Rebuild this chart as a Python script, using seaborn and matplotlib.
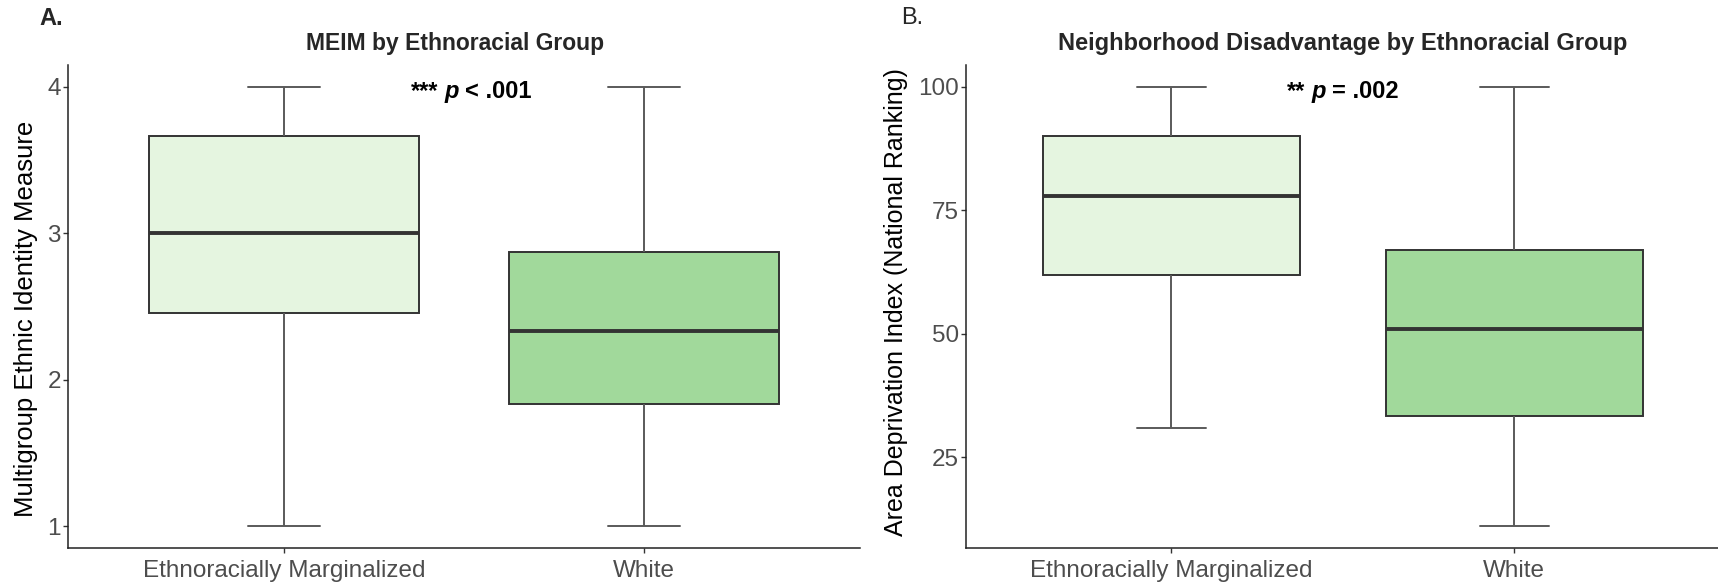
import numpy as np
import pandas as pd
import matplotlib
matplotlib.use("Agg")
import matplotlib.pyplot as plt
import seaborn as sns
from matplotlib.offsetbox import TextArea, HPacker, AnnotationBbox

# Groups and fill colours
groups = ["Ethnoracially Marginalized", "White"]
group_colors = ["#E5F5E0", "#A1D99B"]

# Five-number summaries per group: min, Q1, median, Q3, max
meim_marginalized = [1.0, 2.46, 3.0, 3.667, 4.0]
meim_white = [1.0, 1.833, 2.333, 2.875, 4.0]
adi_marginalized = [31, 62, 78, 90, 100]
adi_white = [11, 33.25, 51, 67, 100]

meim_ticks = [1, 2, 3, 4]
adi_ticks = [25, 50, 75, 100]

sns.set_theme(style="ticks")
plt.rcParams["font.family"] = ["Liberation Sans", "DejaVu Sans"]

W, H = 1718, 584
fig = plt.figure(figsize=(W / 100, H / 100), dpi=100)


def px_axes(x0, x1, y0, y1):
    return fig.add_axes([x0 / W, 1 - y1 / H, (x1 - x0) / W, (y1 - y0) / H])


def p_note(ax, x, y, stars, rest):
    tp = dict(fontsize=17, fontweight="bold", color="black")
    parts = [
        TextArea(stars, textprops=tp),
        TextArea("p", textprops=dict(tp, fontstyle="italic")),
        TextArea(rest, textprops=tp),
    ]
    box = HPacker(children=parts, align="baseline", pad=0, sep=4.5)
    ab = AnnotationBbox(box, (x, y), xycoords="data", xybox=(0, -3),
                        boxcoords="offset points", box_alignment=(0.5, 0.5),
                        frameon=False, pad=0)
    ax.add_artist(ab)


def draw_panel(ax, values_by_group, ticks, ylim, ylabel, label_pos, label_size):
    df = pd.DataFrame({
        "group": np.repeat(groups, [len(v) for v in values_by_group]),
        "value": np.concatenate(values_by_group),
    })
    sns.boxplot(data=df, x="group", y="value", hue="group", order=groups,
                hue_order=groups, palette=group_colors, saturation=1,
                width=0.75, whis=(0, 100), linecolor="#333333", linewidth=1.4,
                fliersize=0, legend=False, ax=ax, capwidths=0.2,
                medianprops={"linewidth": 2.8, "color": "#333333"},
                whiskerprops={"color": "#5a5a5a"},
                capprops={"color": "#5a5a5a"})
    ax.set_xlim(-0.6, 1.6)
    ax.set_ylim(*ylim)
    ax.set_yticks(ticks)
    ax.set_xlabel("")
    ax.set_ylabel(ylabel, fontsize=label_size, color="black")
    ax.yaxis.set_label_coords(*label_pos)
    for s in ["top", "right"]:
        ax.spines[s].set_visible(False)
    for s in ["left", "bottom"]:
        ax.spines[s].set_color("#222222")
        ax.spines[s].set_linewidth(1.1)
    ax.tick_params(axis="both", length=3.6, width=1.0, color="#333333",
                   labelsize=17.5, labelcolor="#4d4d4d")
    ax.tick_params(axis="x", pad=5)
    ax.tick_params(axis="y", pad=1.2)


ax1 = px_axes(67.7, 860, 65, 548.3)
ax2 = px_axes(965.7, 1720, 65, 548.3)

draw_panel(ax1, [meim_marginalized, meim_white], meim_ticks, (0.85, 4.15),
           "Multigroup Ethnic Identity Measure", (-0.037, 0.475), 18.5)
draw_panel(ax2, [adi_marginalized, adi_white], adi_ticks, (6.55, 104.45),
           "Area Deprivation Index (National Ranking)", (-0.076, 0.51), 18)

p_note(ax1, 0.52, max(meim_marginalized), "***", "< .001")
p_note(ax2, 0.5, max(adi_marginalized), "**", "= .002")

fig.text(455 / W, 1 - 43.5 / H, "MEIM by Ethnoracial Group", ha="center",
         va="center", fontsize=16.5, fontweight="bold")
fig.text(1343 / W, 1 - 43.5 / H, "Neighborhood Disadvantage by Ethnoracial Group",
         ha="center", va="center", fontsize=17, fontweight="bold")
fig.text(39.4 / W, 1 - 18.5 / H, "A.", ha="left", va="center", fontsize=17,
         fontweight="bold")
fig.text(900.7 / W, 1 - 18.5 / H, "B.", ha="left", va="center", fontsize=17)

fig.savefig("out.png", dpi=100)
